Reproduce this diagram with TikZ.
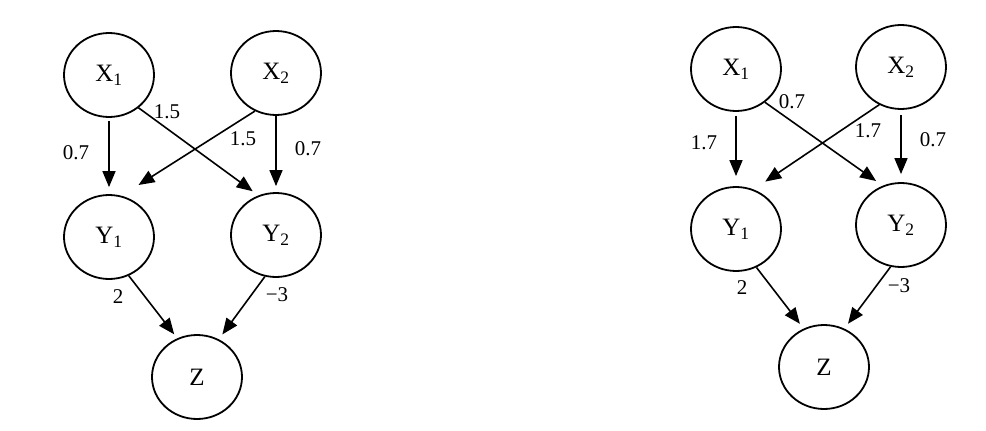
\documentclass[tikz,border=0pt]{standalone}
\usepackage{fontspec}
\setmainfont{Liberation Serif}
\usetikzlibrary{arrows.meta,shapes.geometric}
\begin{document}
\begin{tikzpicture}[x=1pt, y=-1pt,
  var/.style={draw, ellipse, line width=1.8pt, minimum width=90pt,
    minimum height=84pt, inner sep=0pt, font=\fontsize{25}{28}\selectfont},
  wt/.style={inner sep=0pt, font=\fontsize{21}{24}\selectfont},
  arc/.style={-{Triangle[length=16pt,width=13pt]}, line width=1.6pt}]
  \useasboundingbox (0,0) rectangle (986,431);
  % left network
  \node[var] (lx1) at (109,75) {X\textsubscript{1}};
  \node[var] (lx2) at (276,73) {X\textsubscript{2}};
  \node[var] (ly1) at (109,237) {Y\textsubscript{1}};
  \node[var] (ly2) at (276,235) {Y\textsubscript{2}};
  \node[var] (lz) at (197,377) {Z};
  \draw[arc, shorten <=3pt, shorten >=7pt] (lx1.south) -- (ly1.north);
  \draw[arc, shorten >=7pt] (lx1.-48) -- (ly2.114);
  \draw[arc, shorten >=20pt] (lx2.-119) -- (ly1.73);
  \draw[arc, shorten >=6pt] (lx2.south) -- (ly2.north);
  \draw[arc, shorten >=5pt] (ly1.-63) -- (lz.117);
  \draw[arc, shorten >=6pt] (ly2.-105) -- (lz.60);
  \node[wt] (lw1) at (76,153) {0.7};
  \node[wt] (lw2) at (167,112) {1.5};
  \node[wt] (lw3) at (243,139) {1.5};
  \node[wt] (lw4) at (308,149) {0.7};
  \node[wt] (lw5) at (118,297) {2};
  \node[wt] (lw6) at (277,295) {−3};
  % right network
  \node[var] (rx1) at (736,69) {X\textsubscript{1}};
  \node[var] (rx2) at (901,67) {X\textsubscript{2}};
  \node[var] (ry1) at (736,229) {Y\textsubscript{1}};
  \node[var] (ry2) at (901,225) {Y\textsubscript{2}};
  \node[var] (rz) at (824,367) {Z};
  \draw[arc, shorten <=4pt, shorten >=10pt] (rx1.south) -- (ry1.north);
  \draw[arc, shorten >=8pt] (rx1.-49) -- (ry2.115);
  \draw[arc, shorten >=14pt] (rx2.-120) -- (ry1.66);
  \draw[arc, shorten <=5pt, shorten >=8pt] (rx2.south) -- (ry2.north);
  \draw[arc, shorten >=6pt] (ry1.-62) -- (rz.118);
  \draw[arc, shorten >=6pt] (ry2.-104) -- (rz.62);
  \node[wt] (rw1) at (704,143) {1.7};
  \node[wt] (rw2) at (792,102) {0.7};
  \node[wt] (rw3) at (868,131) {1.7};
  \node[wt] (rw4) at (933,140) {0.7};
  \node[wt] (rw5) at (742,288) {2};
  \node[wt] (rw6) at (899,286) {−3};
\end{tikzpicture}
\end{document}
